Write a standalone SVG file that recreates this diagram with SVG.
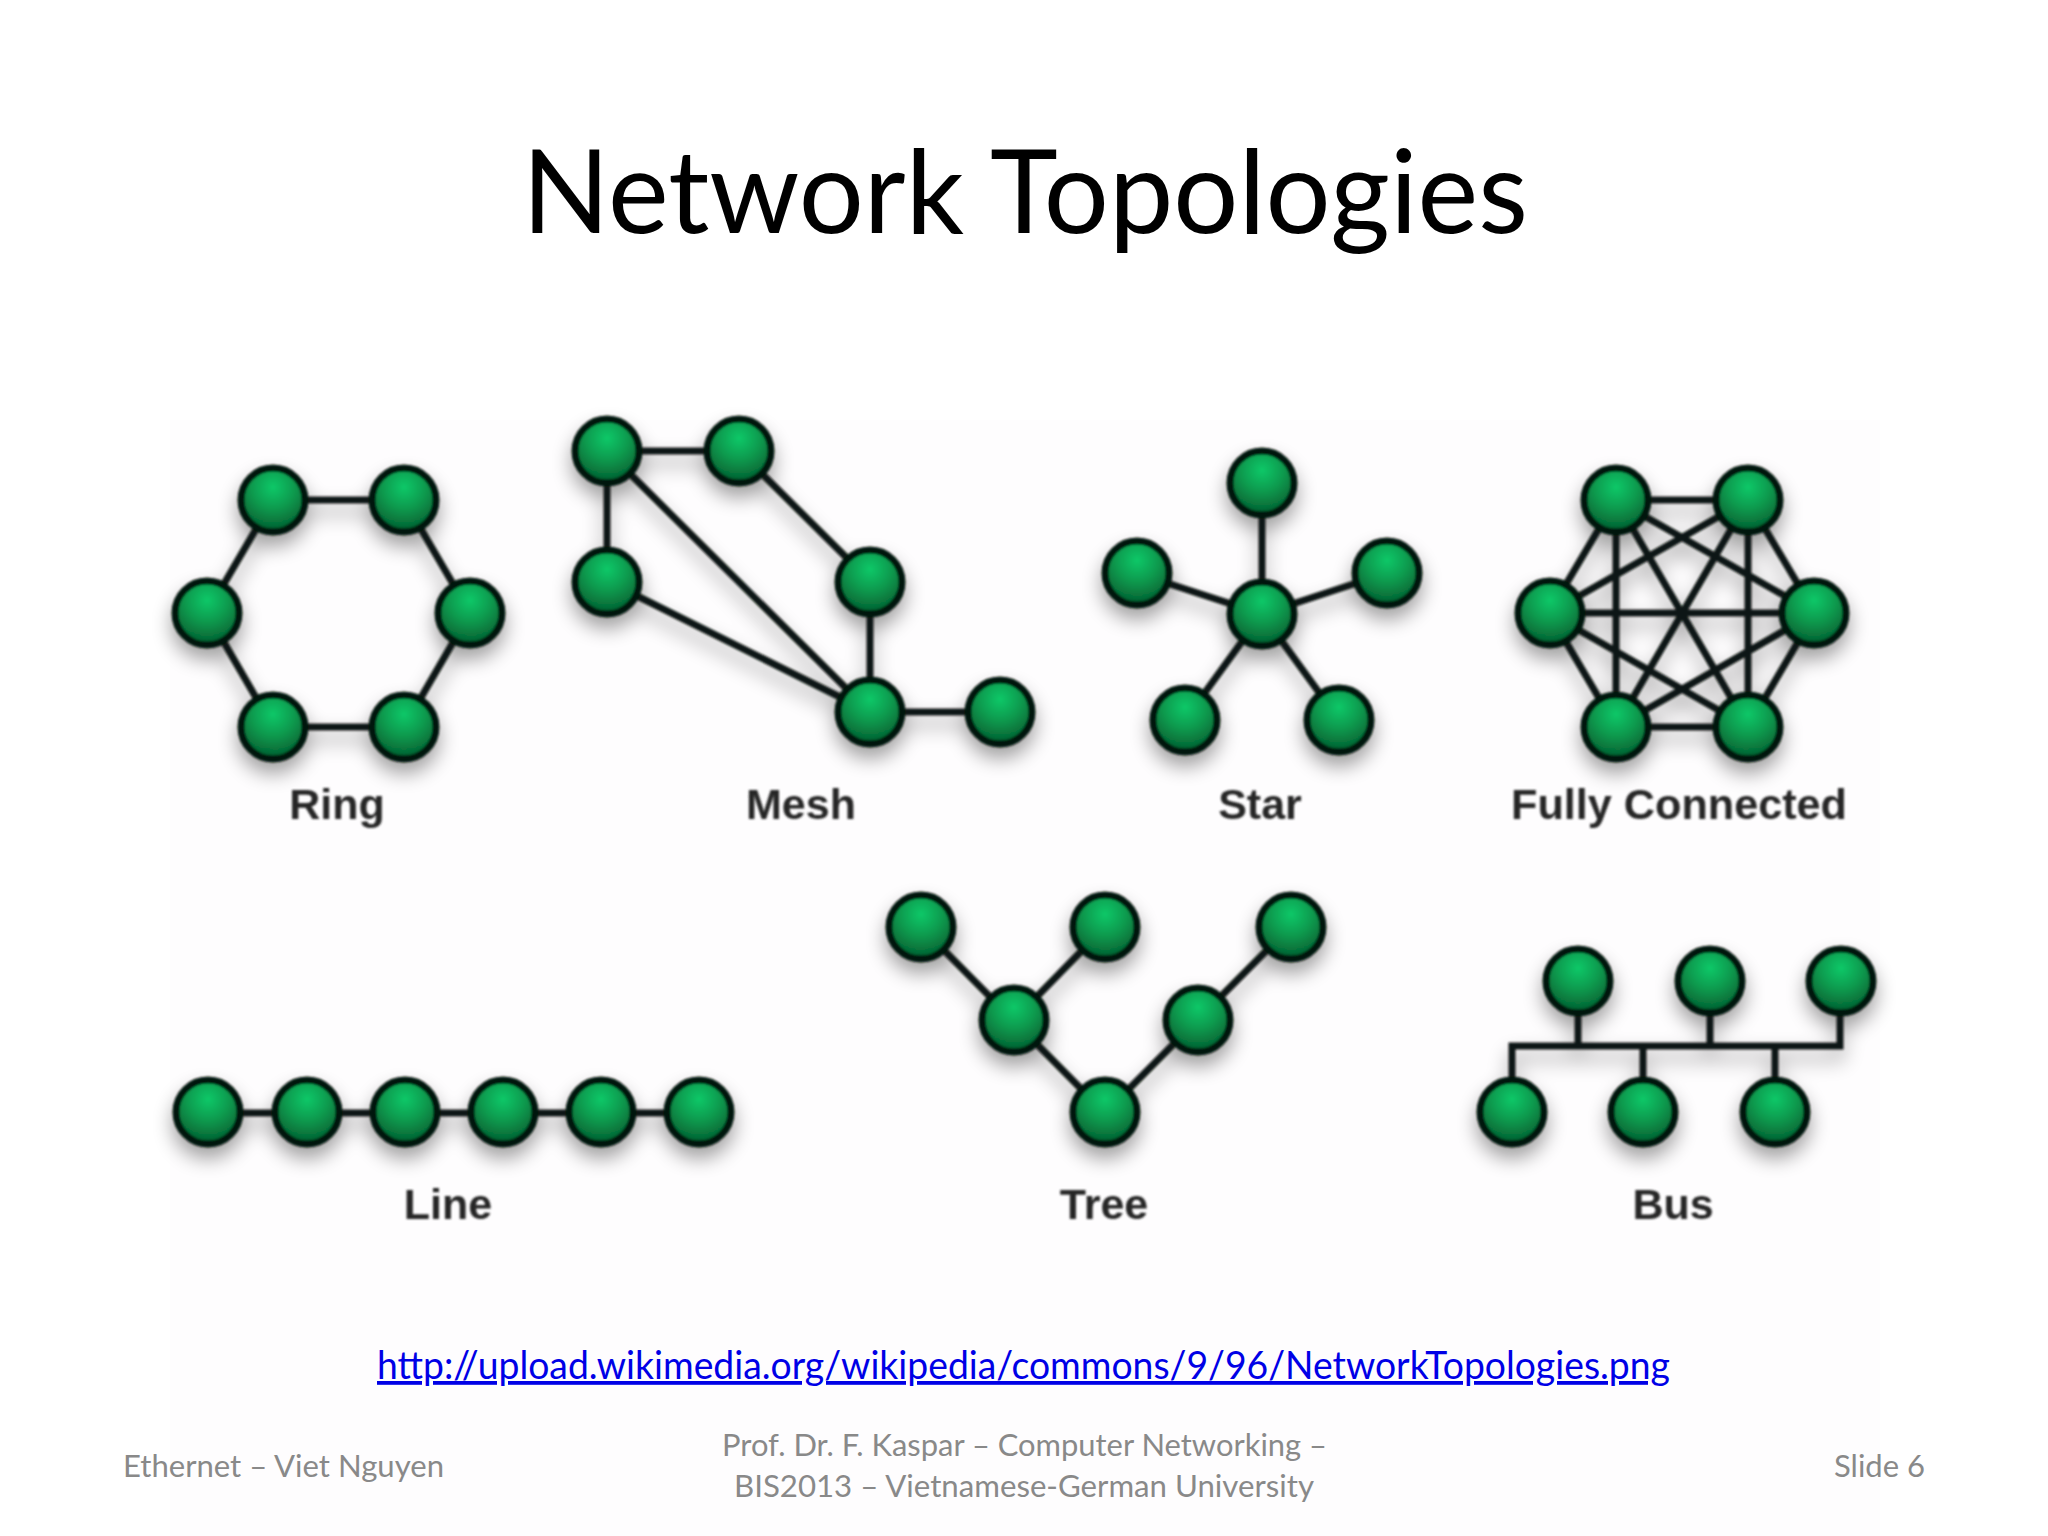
<svg xmlns="http://www.w3.org/2000/svg" width="2048" height="1536" viewBox="0 0 2048 1536">
<style>
.n{fill:url(#ball);stroke:#03140b;stroke-width:7}
.c path{stroke:#101512;stroke-width:7;fill:none;stroke-linecap:round}
.l{font-family:"Liberation Sans",Arial,sans-serif;font-weight:700;font-size:43px;fill:#262626;text-anchor:middle}
.f{font-family:Lato,"Open Sans",sans-serif;font-size:31px;fill:#898989}
</style>
<defs>
<radialGradient id="ball" cx="0.5" cy="0.3" r="0.74">
<stop offset="0" stop-color="#0bc868"/><stop offset="0.45" stop-color="#0a9a4e"/><stop offset="0.8" stop-color="#066e38"/><stop offset="1" stop-color="#034a25"/>
</radialGradient>
<filter id="shadow" x="-5%" y="-5%" width="110%" height="115%">
<feGaussianBlur in="SourceGraphic" stdDeviation="1.1" result="sharp"/>
<feGaussianBlur in="SourceAlpha" stdDeviation="10"/><feOffset dy="11"/>
<feComponentTransfer result="sh"><feFuncA type="linear" slope="0.38"/></feComponentTransfer>
<feMerge><feMergeNode in="sh"/><feMergeNode in="sharp"/></feMerge>
</filter>
<filter id="soft" x="-10%" y="-20%" width="120%" height="140%"><feGaussianBlur stdDeviation="1"/></filter>
</defs>
<rect width="2048" height="1536" fill="#fff"/>
<rect x="170" y="420" width="1710" height="1116" fill="#fefdfe"/>
<text id="title" x="1025" y="233" text-anchor="middle" textLength="1006" lengthAdjust="spacingAndGlyphs" font-family="Lato,'Open Sans',sans-serif" font-size="116" fill="#000">Network Topologies</text>
<g id="art" filter="url(#shadow)">
<g id="connectors" class="c">
<path d="M273 500H404L470 613L404 727H273L207 613Z"/>
<path d="M607 451H739L870 581V712H1000M870 712L607 451V581L870 712"/>
<path d="M1262 483V614M1136 573L1262 614L1387 573M1185 720L1262 614L1339 720"/>
<path d="M1616 500H1748L1815 613L1748 727H1616L1549 613ZM1616 500V727M1748 500V727M1549 613H1815M1616 500L1748 727M1748 500L1616 727M1616 500L1815 613M1748 500L1549 613M1549 613L1748 727M1815 613L1616 727"/>
<path d="M208 1113H699"/>
<path d="M921 927L1105 1113L1290 927M1105 927L1014 1020"/>
<path d="M1512 1113V1046H1840V981M1578 981V1046M1710 981V1046M1643 1113V1046M1775 1113V1046"/>
</g>
<g id="ring">
<circle class="n" cx="273" cy="500" r="32"/><circle class="n" cx="404" cy="500" r="32"/><circle class="n" cx="207" cy="613" r="32"/><circle class="n" cx="470" cy="613" r="32"/><circle class="n" cx="273" cy="727" r="32"/><circle class="n" cx="404" cy="727" r="32"/>
</g>
<g id="mesh">
<circle class="n" cx="607" cy="451" r="32"/><circle class="n" cx="739" cy="451" r="32"/><circle class="n" cx="607" cy="582" r="32"/><circle class="n" cx="870" cy="582" r="32"/><circle class="n" cx="870" cy="712" r="32"/><circle class="n" cx="1000" cy="712" r="32"/>
</g>
<g id="star">
<circle class="n" cx="1262" cy="483" r="32"/><circle class="n" cx="1137" cy="573" r="32"/><circle class="n" cx="1387" cy="573" r="32"/><circle class="n" cx="1262" cy="614" r="32"/><circle class="n" cx="1185" cy="720" r="32"/><circle class="n" cx="1339" cy="720" r="32"/>
</g>
<g id="fully-connected">
<circle class="n" cx="1616" cy="500" r="32"/><circle class="n" cx="1748" cy="500" r="32"/><circle class="n" cx="1550" cy="613" r="32"/><circle class="n" cx="1814" cy="613" r="32"/><circle class="n" cx="1616" cy="727" r="32"/><circle class="n" cx="1748" cy="727" r="32"/>
</g>
<g id="line">
<circle class="n" cx="208" cy="1112" r="32"/><circle class="n" cx="307" cy="1112" r="32"/><circle class="n" cx="405" cy="1112" r="32"/><circle class="n" cx="503" cy="1112" r="32"/><circle class="n" cx="601" cy="1112" r="32"/><circle class="n" cx="699" cy="1112" r="32"/>
</g>
<g id="tree">
<circle class="n" cx="921" cy="927" r="32"/><circle class="n" cx="1105" cy="927" r="32"/><circle class="n" cx="1291" cy="927" r="32"/><circle class="n" cx="1014" cy="1020" r="32"/><circle class="n" cx="1198" cy="1020" r="32"/><circle class="n" cx="1105" cy="1112" r="32"/>
</g>
<g id="bus">
<circle class="n" cx="1578" cy="981" r="32"/><circle class="n" cx="1710" cy="981" r="32"/><circle class="n" cx="1841" cy="981" r="32"/><circle class="n" cx="1512" cy="1112" r="32"/><circle class="n" cx="1643" cy="1112" r="32"/><circle class="n" cx="1775" cy="1112" r="32"/>
</g>
</g>
<g id="labels" filter="url(#soft)">
<text class="l" x="337" y="819">Ring</text>
<text class="l" x="801" y="819">Mesh</text>
<text class="l" x="1260" y="819">Star</text>
<text class="l" x="1679" y="819" textLength="336" lengthAdjust="spacingAndGlyphs">Fully Connected</text>
<text class="l" x="448" y="1219">Line</text>
<text class="l" x="1104" y="1219">Tree</text>
<text class="l" x="1673" y="1219">Bus</text>
</g>
<text id="link" x="377" y="1379" textLength="1293" lengthAdjust="spacingAndGlyphs" font-family="Lato,'Open Sans',sans-serif" font-size="38" fill="#0000e6" text-decoration="underline">http://upload.wikimedia.org/wikipedia/commons/9/96/NetworkTopologies.png</text>
<g id="footer">
<text class="f" x="123" y="1477" textLength="321" lengthAdjust="spacingAndGlyphs">Ethernet – Viet Nguyen</text>
<text class="f" x="722" y="1456" textLength="605" lengthAdjust="spacingAndGlyphs">Prof. Dr. F. Kaspar – Computer Networking –</text>
<text class="f" x="734" y="1497" textLength="580" lengthAdjust="spacingAndGlyphs">BIS2013 – Vietnamese-German University</text>
<text class="f" x="1834" y="1477" textLength="91" lengthAdjust="spacingAndGlyphs">Slide 6</text>
</g>
</svg>
